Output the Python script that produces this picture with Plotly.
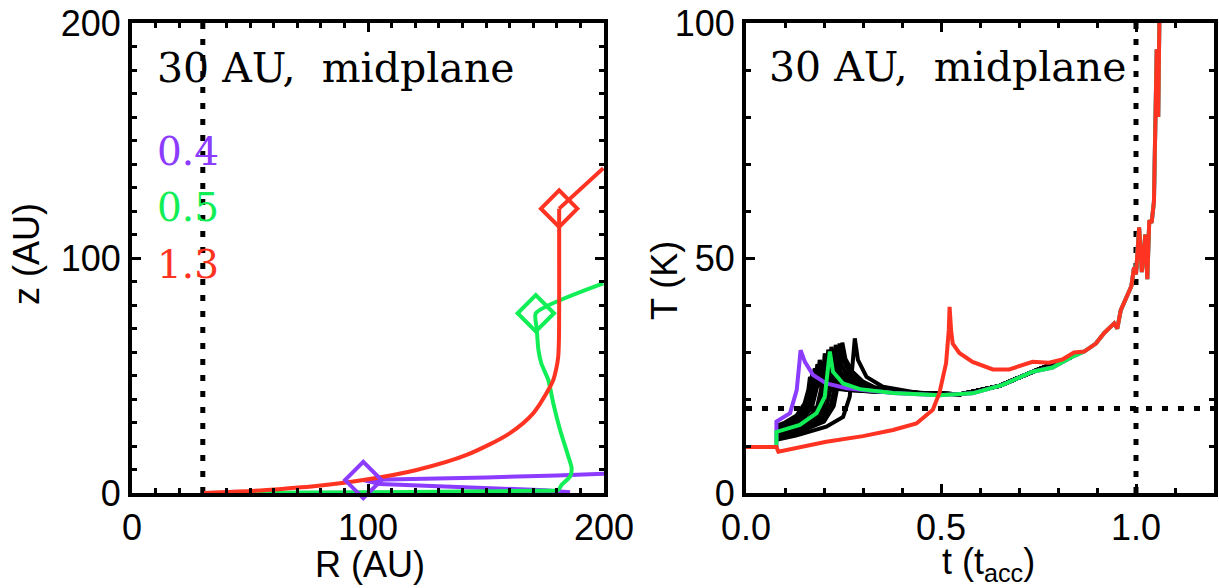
import plotly.graph_objects as go

# ---------------- Left panel data: R (AU) vs z (AU) ----------------
purple_R = [30, 80, 130, 170, 185.6, 175, 150, 125, 105, 98, 120, 150, 180, 200]
purple_z = [0, 0, 0, 0, 0.3, 1.2, 2.0, 2.8, 3.8, 5.5, 5.9, 6.6, 7.5, 8.2]
purple_diamond_R = [98]
purple_diamond_z = [5.5]

green_R = [30, 60, 100, 140, 170, 180.6, 182, 185.6, 186.3, 184.9, 181.4, 178.5, 176.4, 173.5, 172.2, 171.5, 171.1, 199.7]
green_z = [0, 0.1, 0.3, 0.6, 1.0, 1.3, 3.4, 7.0, 10.5, 15.5, 26.8, 38.2, 48.1, 55, 61, 70, 76.5, 89.2]
green_diamond_R = [171.1]
green_diamond_z = [76.5]

red_R = [30, 45, 57, 78, 98, 120.6, 141.8, 160, 170, 176.4, 178.5, 179.8, 180.6, 180.9, 181, 181, 181]
red_z = [0, 0.6, 1.3, 3.0, 5.5, 9.8, 16.2, 25.4, 33.9, 43.8, 48.1, 53, 58, 65, 80, 100, 121]
red_tail_R = [181, 199.7]
red_tail_z = [121, 138.2]
red_diamond_R = [181]
red_diamond_z = [121]

r_start = 30           # dotted vertical line (AU)
label_values = ["0.4", "0.5", "1.3"]

# ---------------- Right panel data: t (t_acc) vs T (K) ----------------
late_t = [0.867, 0.897, 0.918, 0.944, 0.952, 0.961, 0.978, 0.988, 0.995, 1.000, 1.008, 1.015,
          1.024, 1.029, 1.034, 1.040, 1.046, 1.051, 1.053, 1.056, 1.057, 1.060]
late_T = [30.1, 31.8, 34.0, 36.1, 35.0, 38.9, 42.1, 44.0, 48.0, 46.5, 56.5, 47.0,
          55.0, 45.5, 58.0, 57.5, 62.0, 82.0, 94.0, 94.0, 80.0, 101.0]

red_t = [0.0, 0.078, 0.083, 0.206, 0.300, 0.377, 0.437, 0.479, 0.496, 0.513, 0.520, 0.522, 0.526, 0.530,
         0.547, 0.581, 0.633, 0.675, 0.735, 0.777, 0.811, 0.841]
red_T = [9.8, 9.8, 8.8, 10.9, 12.1, 13.4, 14.8, 17.7, 21.3, 27.6, 34.7, 39.6, 34.5, 31.8,
         29.8, 27.9, 26.3, 26.3, 27.9, 27.7, 28.4, 29.9]

green_t = [0.078, 0.078, 0.138, 0.181, 0.202, 0.210, 0.215, 0.223, 0.249, 0.292, 0.377,
           0.496, 0.581, 0.658, 0.735, 0.786, 0.837]
green_T = [9.5, 13.0, 14.5, 17.0, 20.5, 26.9, 30.1, 25.8, 23.3, 22.1, 21.3,
           20.8, 21.2, 23.0, 25.8, 26.7, 29.0]

purple_t = [0.078, 0.078, 0.113, 0.130, 0.136, 0.140, 0.151, 0.172, 0.206, 0.258, 0.300,
            0.377, 0.496, 0.581, 0.658, 0.735, 0.786, 0.837]
purple_T = [9.5, 15.2, 17.0, 21.9, 26.9, 30.4, 27.9, 25.1, 23.3, 22.3, 21.9,
            21.3, 20.8, 21.2, 23.0, 25.8, 26.7, 29.0]

merged_t = [0.45, 0.55, 0.65, 0.75, 0.837]
merged_T = [21.2, 21.0, 22.8, 26.3, 29.0]

black_t = [
    [0.078, 0.100, 0.130, 0.150, 0.160, 0.164, 0.170, 0.190, 0.220, 0.260, 0.320],
    [0.078, 0.105, 0.135, 0.155, 0.166, 0.170, 0.177, 0.195, 0.225, 0.265, 0.325],
    [0.078, 0.110, 0.140, 0.160, 0.170, 0.176, 0.185, 0.200, 0.230, 0.270, 0.330],
    [0.078, 0.110, 0.145, 0.165, 0.176, 0.183, 0.191, 0.208, 0.235, 0.275, 0.335],
    [0.078, 0.110, 0.150, 0.170, 0.182, 0.189, 0.197, 0.215, 0.240, 0.280, 0.340],
    [0.078, 0.120, 0.160, 0.183, 0.195, 0.202, 0.210, 0.228, 0.255, 0.290, 0.350],
    [0.078, 0.120, 0.165, 0.190, 0.203, 0.211, 0.219, 0.237, 0.262, 0.295, 0.355],
    [0.078, 0.120, 0.170, 0.197, 0.211, 0.219, 0.227, 0.245, 0.270, 0.300, 0.360],
    [0.078, 0.130, 0.180, 0.207, 0.222, 0.230, 0.238, 0.256, 0.280, 0.310, 0.370],
    [0.078, 0.130, 0.190, 0.217, 0.232, 0.240, 0.248, 0.266, 0.290, 0.320, 0.380],
    [0.078, 0.140, 0.200, 0.225, 0.239, 0.247, 0.255, 0.273, 0.300, 0.330, 0.390],
    [0.078, 0.128, 0.206, 0.249, 0.266, 0.274, 0.279, 0.287, 0.309, 0.351, 0.419],
]
black_T = [
    [14.3, 15.0, 16.5, 19.0, 22.0, 24.7, 23.5, 22.8, 22.3, 21.9, 21.6],
    [14.1, 14.9, 16.4, 19.0, 22.3, 25.6, 24.2, 23.3, 22.5, 21.9, 21.6],
    [13.9, 14.8, 16.3, 19.0, 22.5, 26.5, 25.0, 23.8, 22.7, 22.0, 21.6],
    [13.7, 14.6, 16.1, 18.7, 22.5, 27.4, 25.6, 24.2, 22.9, 22.0, 21.6],
    [13.5, 14.4, 16.0, 18.5, 22.5, 28.3, 26.2, 24.5, 23.0, 22.1, 21.6],
    [13.1, 14.2, 15.8, 18.5, 23.0, 29.7, 27.0, 25.0, 23.2, 22.2, 21.6],
    [12.9, 14.0, 15.6, 18.5, 23.3, 30.5, 27.5, 25.2, 23.4, 22.3, 21.7],
    [12.8, 13.8, 15.5, 18.5, 23.5, 31.1, 28.0, 25.5, 23.5, 22.4, 21.7],
    [12.4, 13.6, 15.3, 18.5, 24.0, 31.5, 28.2, 25.6, 23.6, 22.5, 21.7],
    [12.0, 13.3, 15.2, 18.5, 24.0, 31.8, 28.4, 25.7, 23.7, 22.5, 21.7],
    [11.6, 13.1, 15.2, 18.5, 24.5, 32.0, 28.5, 25.8, 23.7, 22.5, 21.7],
    [11.3, 12.2, 14.1, 16.2, 20.5, 26.9, 32.9, 28.3, 24.7, 22.6, 21.6],
]

T_freeze = 18      # dotted horizontal line (K)
t_end = 1.0        # dotted vertical line (t_acc)

# ---------------- Styles ----------------
PURPLE = "#8C3CFF"
GREEN = "#12EE55"
RED = "#FF3322"
SANS = "Liberation Sans, Arial, sans-serif"
SERIF = "DejaVu Serif, serif"
DOT = "6px,10px"
LW = 4
TICKSIZE = 36

W, H = 1219, 588
fig = go.Figure()

# dotted reference lines
fig.add_trace(go.Scatter(x=[r_start, r_start], y=[0, 200], mode="lines",
                         line=dict(color="black", width=5, dash=DOT), xaxis="x", yaxis="y",
                         showlegend=False, hoverinfo="skip"))
fig.add_trace(go.Scatter(x=[t_end, t_end], y=[0, 100], mode="lines",
                         line=dict(color="black", width=5, dash=DOT), xaxis="x2", yaxis="y2",
                         showlegend=False, hoverinfo="skip"))
fig.add_trace(go.Scatter(x=[0, 1.2], y=[T_freeze, T_freeze], mode="lines",
                         line=dict(color="black", width=5, dash=DOT), xaxis="x2", yaxis="y2",
                         showlegend=False, hoverinfo="skip"))

# left panel curves
fig.add_trace(go.Scatter(x=purple_R, y=purple_z, mode="lines", line=dict(color=PURPLE, width=LW),
                         xaxis="x", yaxis="y", showlegend=False))
fig.add_trace(go.Scatter(x=green_R, y=green_z, mode="lines",
                         line=dict(color=GREEN, width=LW, shape="spline", smoothing=0.6),
                         xaxis="x", yaxis="y", showlegend=False))
fig.add_trace(go.Scatter(x=red_R, y=red_z, mode="lines",
                         line=dict(color=RED, width=LW, shape="spline", smoothing=0.8),
                         xaxis="x", yaxis="y", showlegend=False))
fig.add_trace(go.Scatter(x=red_tail_R, y=red_tail_z, mode="lines",
                         line=dict(color=RED, width=LW), xaxis="x", yaxis="y", showlegend=False))
for dR, dz, c in [(purple_diamond_R, purple_diamond_z, PURPLE),
                  (green_diamond_R, green_diamond_z, GREEN),
                  (red_diamond_R, red_diamond_z, RED)]:
    fig.add_trace(go.Scatter(x=dR, y=dz, mode="markers",
                             marker=dict(symbol="diamond-open", size=28, color=c,
                                         line=dict(color=c, width=4)),
                             xaxis="x", yaxis="y", showlegend=False, cliponaxis=False))

# right panel curves
for bt, bT in zip(black_t, black_T):
    fig.add_trace(go.Scatter(x=bt + merged_t, y=bT + merged_T, mode="lines",
                             line=dict(color="black", width=4),
                             xaxis="x2", yaxis="y2", showlegend=False))
fig.add_trace(go.Scatter(x=purple_t + late_t, y=purple_T + late_T, mode="lines",
                         line=dict(color=PURPLE, width=LW), xaxis="x2", yaxis="y2", showlegend=False))
fig.add_trace(go.Scatter(x=green_t + late_t, y=green_T + late_T, mode="lines",
                         line=dict(color=GREEN, width=LW), xaxis="x2", yaxis="y2", showlegend=False))
fig.add_trace(go.Scatter(x=red_t + late_t, y=red_T + late_T, mode="lines",
                         line=dict(color=RED, width=LW), xaxis="x2", yaxis="y2", showlegend=False))

# axes
def axis_style(rng, dtick, minor_dtick, domain, anchor, fmt=None):
    d = dict(range=rng, dtick=dtick, tick0=0, domain=domain, anchor=anchor, automargin=False,
             showline=True, linewidth=4, linecolor="black", mirror="allticks",
             ticks="inside", ticklen=9, tickwidth=3, tickcolor="black",
             showgrid=False, zeroline=False,
             tickfont=dict(family=SANS, size=TICKSIZE, color="black"),
             minor=dict(dtick=minor_dtick, tick0=0, ticks="inside", ticklen=5, tickwidth=3,
                        tickcolor="black", showgrid=False))
    if fmt:
        d["tickformat"] = fmt
    return d

L0, L1 = 132 / W, 604 / W
R0, R1 = 746 / W, 1214 / W
Y0, Y1 = (H - 493) / H, (H - 23) / H

fig.update_layout(
    width=W, height=H,
    margin=dict(l=0, r=0, t=0, b=0, pad=0),
    paper_bgcolor="white", plot_bgcolor="white",
    xaxis=axis_style([0, 200], 100, 10, [L0, L1], "y"),
    yaxis=axis_style([0, 200], 100, 10, [Y0, Y1], "x"),
    xaxis2=axis_style([0, 1.2], 0.5, 0.1, [R0, R1], "y2", ".1f"),
    yaxis2=axis_style([0, 100], 50, 10, [Y0, Y1], "x2"),
)

ann = []
# panel texts
ann.append(dict(x=9.7, y=181, xref="x", yref="y", text="30 AU,  midplane", showarrow=False,
                xanchor="left", yanchor="middle", font=dict(family=SERIF, size=41, color="black")))
ann.append(dict(x=0.054, y=90.6, xref="x2", yref="y2", text="30 AU,  midplane", showarrow=False,
                xanchor="left", yanchor="middle", font=dict(family=SERIF, size=41, color="black")))
for txt, zpos, c in zip(label_values, [145.5, 121.7, 97.4], [PURPLE, GREEN, RED]):
    ann.append(dict(x=9.7, y=zpos, xref="x", yref="y", text=txt, showarrow=False,
                    xanchor="left", yanchor="middle", font=dict(family=SERIF, size=39, color=c)))
# axis titles
ann.append(dict(x=370 / W, y=(H - 564) / H, xref="paper", yref="paper", text="R (AU)",
                showarrow=False, xanchor="center", yanchor="middle",
                font=dict(family=SANS, size=TICKSIZE, color="black")))
ann.append(dict(x=988 / W, y=(H - 564) / H, xref="paper", yref="paper",
                text="t (t<sub>acc</sub>)", showarrow=False, xanchor="center", yanchor="middle",
                font=dict(family=SANS, size=TICKSIZE, color="black")))
ann.append(dict(x=26 / W, y=(H - 254) / H, xref="paper", yref="paper", text="z (AU)",
                showarrow=False, xanchor="center", yanchor="middle", textangle=-90,
                font=dict(family=SANS, size=TICKSIZE, color="black")))
ann.append(dict(x=664 / W, y=(H - 281) / H, xref="paper", yref="paper", text="T (K)",
                showarrow=False, xanchor="center", yanchor="middle", textangle=-90,
                font=dict(family=SANS, size=TICKSIZE, color="black")))
fig.update_layout(annotations=ann)

fig.write_html("out.html", config={"displayModeBar": False},
               post_script="document.body.style.margin='0px';document.body.style.overflow='hidden';")
